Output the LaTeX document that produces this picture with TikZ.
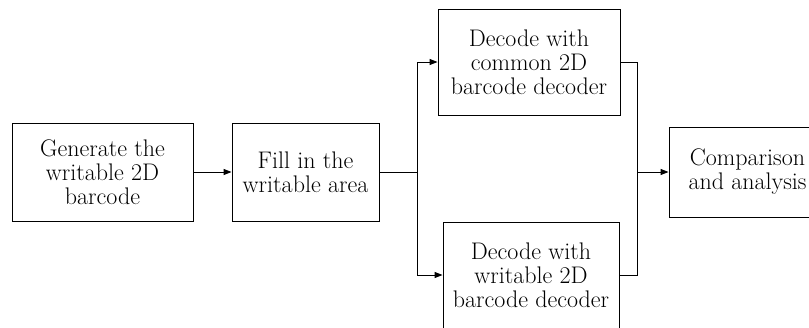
\documentclass[tikz,border=0pt]{standalone}
\usepackage{fontspec}
\usetikzlibrary{arrows.meta,calc}
\tikzset{
  box/.style={draw=black, line width=0.9pt, rectangle, align=center, inner sep=0pt,
    font=\fontsize{24}{24}\selectfont},
  link/.style={draw=black, line width=0.9pt},
  arrow/.style={link, -{Triangle[length=8pt,width=6pt]}}
}
\begin{document}
\begin{tikzpicture}[x=1pt,y=-1pt]
\clip (0,0) rectangle (809,327);
\node[box, minimum width=181pt, minimum height=98pt] (gen) at (102.5,172) {Generate the\\writable 2D\\barcode};
\node[box, minimum width=147pt, minimum height=98pt] (fill) at (305.5,172) {Fill in the\\writable area};
\node[box, minimum width=182pt, minimum height=106pt] (common) at (529,62) {Decode with\\common 2D\\barcode decoder};
\node[box, minimum width=176pt, minimum height=106pt] (writ) at (531,275) {Decode with\\writable 2D\\barcode decoder};
\node[box, minimum width=157pt, minimum height=90pt] (comp) at (747.5,172) {Comparison\\and analysis};
\coordinate (j1) at (417,172);
\coordinate (j2) at (637,172);
\draw[arrow] (gen.east) -- (fill.west);
\draw[link] (fill.east) -- (j1);
\draw[arrow] (j1) |- (common.west);
\draw[arrow] (j1) |- (writ.west);
\draw[link] (common.east) -| (j2);
\draw[link] (writ.east) -| (j2);
\draw[arrow] (j2) -- (comp.west);
\end{tikzpicture}
\end{document}
